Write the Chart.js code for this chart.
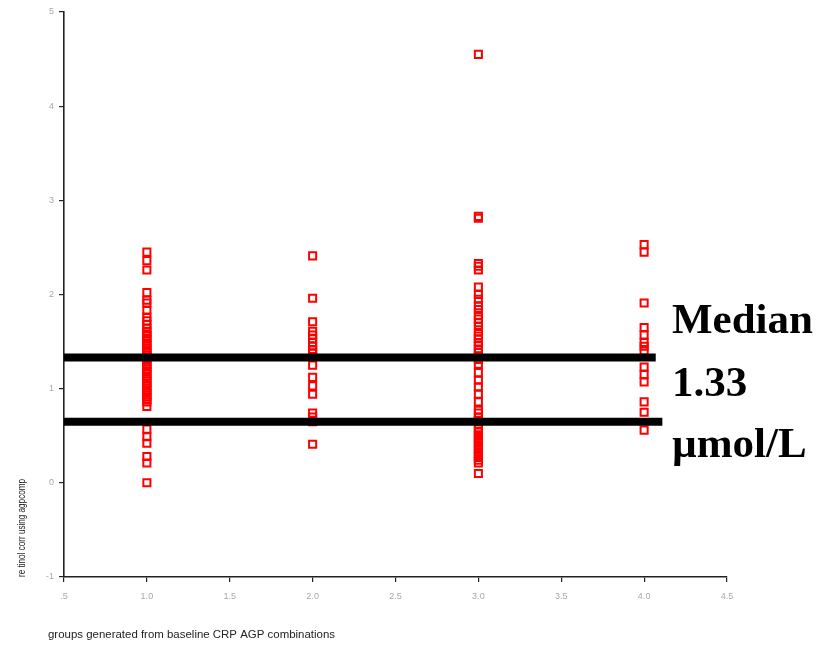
<!DOCTYPE html>
<html>
<head>
<meta charset="utf-8">
<script src="https://cdn.jsdelivr.net/npm/chart.js@4.4.1/dist/chart.umd.min.js"></script>
<style>
  body { margin: 0; background: white; }
  canvas { display: block; }
</style>
</head>
<body>
<canvas id="chart" width="828" height="646"></canvas>
<script>
// retinol values per CRP/AGP group
const group1 = [2.45, 2.36, 2.26, 2.02, 1.94, 1.91, 1.83, 1.76, 1.72, 1.68, 1.64,
  1.61, 1.58, 1.56, 1.53, 1.51, 1.48, 1.46, 1.43, 1.41, 1.38, 1.36, 1.33, 1.31,
  1.28, 1.26, 1.23, 1.21, 1.18, 1.16, 1.13, 1.11, 1.08, 1.06, 1.03, 1.01, 0.98,
  0.96, 0.93, 0.91, 0.88, 0.86, 0.81, 0.57, 0.49, 0.42, 0.28, 0.21, 0.0];
const group2 = [2.41, 1.96, 1.71, 1.61, 1.57, 1.53, 1.49, 1.45, 1.41, 1.38, 1.34,
  1.25, 1.12, 1.03, 0.94, 0.74, 0.70, 0.65, 0.41];
const group3 = [4.55, 2.83, 2.81, 2.33, 2.30, 2.26, 2.08, 2.00, 1.95, 1.88, 1.84,
  1.78, 1.74, 1.70, 1.66, 1.60, 1.56, 1.53, 1.49, 1.46, 1.42, 1.39, 1.35, 1.31,
  1.26, 1.17, 1.09, 1.02, 0.94, 0.86, 0.77, 0.74, 0.70, 0.66, 0.62, 0.57, 0.54,
  0.51, 0.48, 0.45, 0.42, 0.39, 0.36, 0.33, 0.30, 0.27, 0.24, 0.21, 0.10];
const group4 = [2.53, 2.45, 1.91, 1.65, 1.57, 1.49, 1.45, 1.40, 1.23, 1.15, 1.07,
  0.86, 0.75, 0.56];
const groups = [1, 2, 3, 4];

// the two black reference lines
const medianLineY = 1.33;
const medianLineX = [0.5, 4.07];
const lowerLineY = 0.65;
const lowerLineX = [0.5, 4.11];

const noteLines = ["Median", "1.33", "\u00b5mol/L"];
const xTitle = "groups generated from baseline CRP AGP combinations";
const yTitle = "re tinol corr using agpcomp";

const points = [];
[group1, group2, group3, group4].forEach((vals, i) => {
  vals.forEach(v => points.push({ x: groups[i], y: v }));
});

const textPlugin = {
  id: "texts",
  afterDraw(chart) {
    const ctx = chart.ctx;
    ctx.save();
    // note on the right
    ctx.fillStyle = "#000";
    ctx.font = "bold 43px 'Liberation Serif', 'Times New Roman', serif";
    ctx.textBaseline = "alphabetic";
    ctx.textAlign = "left";
    const baselines = [333, 396, 457];
    noteLines.forEach((t, i) => ctx.fillText(t, 672, baselines[i]));

    // x title, squeezed to the width in the picture
    ctx.font = "10px 'Liberation Sans', Arial, sans-serif";
    ctx.fillStyle = "#222";
    ctx.textBaseline = "middle";
    let w = ctx.measureText(xTitle).width;
    ctx.save();
    ctx.translate(48, 635);
    ctx.scale(287 / w, 1);
    ctx.fillText(xTitle, 0, 0);
    ctx.restore();

    // y title
    w = ctx.measureText(yTitle).width;
    ctx.save();
    ctx.translate(22, 577);
    ctx.rotate(-Math.PI / 2);
    ctx.scale(98 / w, 1);
    ctx.fillText(yTitle, 0, 0);
    ctx.restore();
    ctx.restore();
  }
};

new Chart(document.getElementById("chart"), {
  type: "scatter",
  data: {
    datasets: [
      {
        type: "line",
        data: [{ x: medianLineX[0], y: medianLineY }, { x: medianLineX[1], y: medianLineY }],
        borderColor: "#000",
        borderWidth: 8,
        pointRadius: 0,
        clip: false,
        order: 0
      },
      {
        type: "line",
        data: [{ x: lowerLineX[0], y: lowerLineY }, { x: lowerLineX[1], y: lowerLineY }],
        borderColor: "#000",
        borderWidth: 8,
        pointRadius: 0,
        clip: false,
        order: 0
      },
      {
        data: points,
        pointStyle: "rect",
        pointRadius: 5,
        borderColor: "#ff0000",
        backgroundColor: "rgba(255,255,255,0)",
        borderWidth: 2,
        order: 1
      }
    ]
  },
  options: {
    responsive: false,
    animation: false,
    layout: { padding: { top: 12, right: 101, bottom: 0, left: 0 } },
    plugins: {
      legend: { display: false },
      tooltip: { enabled: false }
    },
    scales: {
      x: {
        type: "linear",
        min: 0.5,
        max: 4.5,
        afterFit: s => { s.height = 69; },
        ticks: {
          stepSize: 0.5,
          color: "#a8a8a8",
          padding: 9,
          font: { size: 9, family: "'Liberation Sans', Arial, sans-serif" },
          callback: v => (v === 0.5 ? ".5" : v.toFixed(1))
        },
        grid: { drawOnChartArea: false, drawTicks: true, tickLength: 5, color: "#222", lineWidth: 1.2 },
        border: { color: "#222", width: 1.6 }
      },
      y: {
        min: -1,
        max: 5,
        afterFit: s => { s.width = 64; },
        ticks: {
          stepSize: 1,
          color: "#a8a8a8",
          padding: 5,
          font: { size: 9, family: "'Liberation Sans', Arial, sans-serif" }
        },
        grid: { drawOnChartArea: false, drawTicks: true, tickLength: 5, color: "#222", lineWidth: 1.2 },
        border: { color: "#222", width: 1.6 }
      }
    }
  },
  plugins: [textPlugin]
});
</script>
</body>
</html>
